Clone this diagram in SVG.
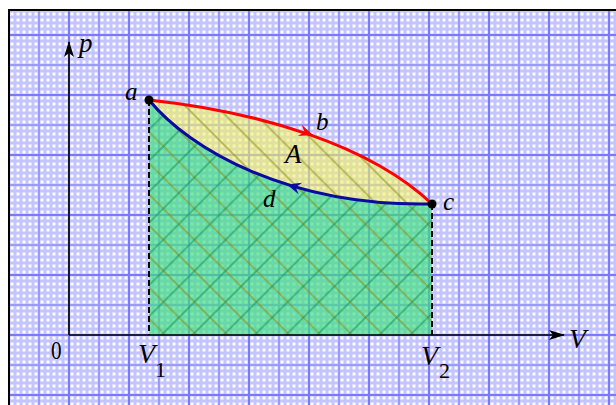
<svg xmlns="http://www.w3.org/2000/svg" width="616" height="405" viewBox="0 0 616 405">
<style>
.lbl{font-family:"Liberation Serif","DejaVu Serif",serif;font-style:italic;fill:#000}
.num{font-family:"Liberation Serif","DejaVu Serif",serif;fill:#000}
.gm{stroke:#9a9aff;stroke-width:2;fill:none}
.gs{stroke:#7a7aff;stroke-width:2;fill:none}
.axis{stroke:#000;stroke-width:1.6;fill:none}
.dash{stroke:#000;stroke-width:2;stroke-dasharray:6 3;fill:none}
</style>
<defs>
<pattern id="fine" patternUnits="userSpaceOnUse" x="3" y="5" width="6" height="6">
<rect width="6" height="6" fill="#c4c4ff"/>
<rect x="1.5" y="1.5" width="3" height="3" fill="#ffffff"/>
</pattern>
<pattern id="hatchB" patternUnits="userSpaceOnUse" width="22" height="22" patternTransform="rotate(-45)">
<line x1="12" y1="-1" x2="12" y2="23" stroke="#8a8a10" stroke-opacity="0.6" stroke-width="1.6"/>
</pattern>
<pattern id="hatchF" patternUnits="userSpaceOnUse" width="22" height="22" patternTransform="rotate(45)">
<line x1="21" y1="-1" x2="21" y2="23" stroke="#109050" stroke-opacity="0.6" stroke-width="1.6"/>
</pattern>
<marker id="axarrow" viewBox="0 0 16 10" refX="15" refY="5" markerWidth="16" markerHeight="10" markerUnits="userSpaceOnUse" orient="auto">
<path d="M0,0 L16,5 L0,10 L4,5 Z" fill="#000"/>
</marker>
</defs>
<rect width="616" height="405" fill="#fff"/>
<g id="grid">
<rect x="10" y="11" width="606" height="394" fill="url(#fine)"/>
<path class="gm" d="M39,11V405M99,11V405M159,11V405M219,11V405M279,11V405M339,11V405M399,11V405M459,11V405M519,11V405M579,11V405M10,65H616M10,125H616M10,185H616M10,245H616M10,305H616M10,365H616"/>
<path class="gs" d="M69,11V405M129,11V405M189,11V405M249,11V405M309,11V405M369,11V405M429,11V405M489,11V405M549,11V405M609,11V405M10,35H616M10,95H616M10,155H616M10,215H616M10,275H616M10,335H616M10,395H616"/>
<path d="M9,405V10H616" stroke="#000" stroke-width="2" fill="none"/>
</g>
<g id="areas">
<path id="work-area" d="M149,100 C190,150 290,207 432,204 L432,335 L149,335 Z" fill="#3ee07e" fill-opacity="0.68"/>
<path id="cycle-area" d="M149,100 C260,112 370,145 432,204 C290,207 190,150 149,100 Z" fill="#f4f460" fill-opacity="0.6"/>
<path d="M149,100 C260,112 370,145 432,204 L432,335 L149,335 Z" fill="url(#hatchB)"/>
<path d="M149,100 C190,150 290,207 432,204 L432,335 L149,335 Z" fill="url(#hatchF)"/>
</g>
<g id="axes">
<path class="dash" d="M149,100V335M432,204V335"/>
<path class="axis" d="M69,335V42" marker-end="url(#axarrow)"/>
<path class="axis" d="M69,335H564" marker-end="url(#axarrow)"/>
</g>
<g id="connectors">
<path id="curve-abc" d="M149,100 C260,112 370,145 432,204" stroke="#ff0000" stroke-width="3" fill="none"/>
<path d="M0,0 L-14,-6 L-9,0 L-14,6 Z" fill="#ff0000" transform="translate(313,135) rotate(19)"/>
<path id="curve-cda" d="M432,204 C290,207 190,150 149,100" stroke="#0a0aa0" stroke-width="3" fill="none"/>
<path d="M0,0 L-14,-6 L-9,0 L-14,6 Z" fill="#0a0aa0" transform="translate(287,184.5) rotate(197)"/>
</g>
<g id="node-a"><circle cx="149" cy="100" r="4.5" fill="#000"/><text class="lbl" x="125" y="100" font-size="25">a</text></g>
<g id="node-c"><circle cx="432" cy="204" r="4.5" fill="#000"/><text class="lbl" x="443" y="210" font-size="25">c</text></g>
<g id="label-b"><text class="lbl" x="316" y="130" font-size="25">b</text></g>
<g id="label-d"><text class="lbl" x="263" y="207" font-size="25">d</text></g>
<g id="label-A"><text class="lbl" x="285" y="163" font-size="27">A</text></g>
<g id="label-p"><text class="lbl" x="79" y="52" font-size="27">p</text></g>
<g id="label-V"><text class="lbl" x="569" y="348" font-size="28">V</text></g>
<g id="label-0"><text class="num" x="51" y="359" font-size="25" transform="translate(51,359) scale(0.85,1) translate(-51,-359)">0</text></g>
<g id="label-V1"><text class="lbl" x="138" y="363" font-size="28">V</text><text class="num" x="155" y="377" font-size="22">1</text></g>
<g id="label-V2"><text class="lbl" x="421" y="365" font-size="28">V</text><text class="num" x="439" y="378" font-size="22">2</text></g>
</svg>
